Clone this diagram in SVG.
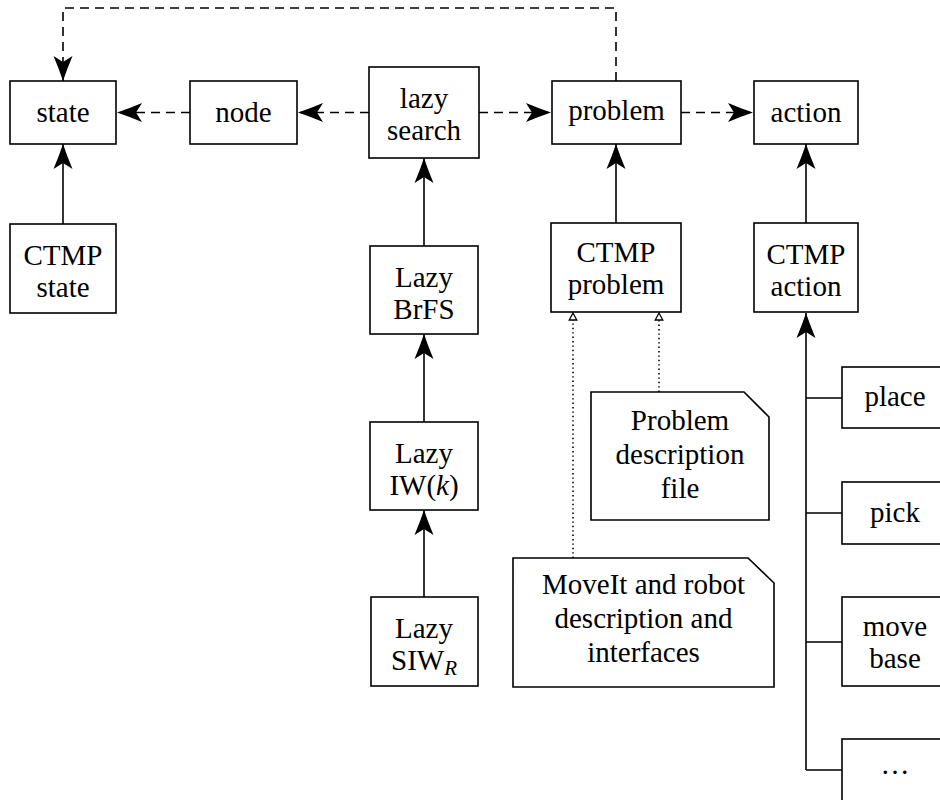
<svg xmlns="http://www.w3.org/2000/svg" width="940" height="800" viewBox="0 0 940 800">
<style>
.b{fill:#fff;stroke:#000;stroke-width:1.6}
.t{font-family:"Liberation Serif","Times New Roman",serif;font-size:29px;text-anchor:middle;fill:#000}
.s{fill:none;stroke:#000;stroke-width:1.6}
.d{fill:none;stroke:#000;stroke-width:1.6;stroke-dasharray:9 6}
.o{fill:none;stroke:#000;stroke-width:1.6;stroke-dasharray:1.4 3}
</style>
<defs>
<marker id="ah" markerUnits="userSpaceOnUse" viewBox="-26 -11 28 22" refX="0" refY="0" markerWidth="28" markerHeight="22" orient="auto">
<path d="M0,0 Q-12,-4 -25,-9.5 L-19,0 L-25,9.5 Q-12,4 0,0 Z" fill="#000"/>
</marker>
<marker id="oh" markerUnits="userSpaceOnUse" viewBox="-10 -6 12 12" refX="0" refY="0" markerWidth="12" markerHeight="12" orient="auto">
<path d="M0,0 L-7,-3.8 L-7,3.8 Z" fill="#fff" stroke="#000" stroke-width="1.3"/>
</marker>
</defs>
<g id="connectors">
<path class="d" d="M616,81 V8 H63 V81" marker-end="url(#ah)"/>
<line class="d" x1="190" y1="112.5" x2="117" y2="112.5" marker-end="url(#ah)"/>
<line class="d" x1="369" y1="112.5" x2="298" y2="112.5" marker-end="url(#ah)"/>
<line class="d" x1="479" y1="112.5" x2="551" y2="112.5" marker-end="url(#ah)"/>
<line class="d" x1="681" y1="112.5" x2="753" y2="112.5" marker-end="url(#ah)"/>
<line class="s" x1="63" y1="224" x2="63" y2="144" marker-end="url(#ah)"/>
<line class="s" x1="424" y1="246" x2="424" y2="158" marker-end="url(#ah)"/>
<line class="s" x1="424" y1="422" x2="424" y2="334" marker-end="url(#ah)"/>
<line class="s" x1="424" y1="597" x2="424" y2="510" marker-end="url(#ah)"/>
<line class="s" x1="616" y1="223" x2="616" y2="144" marker-end="url(#ah)"/>
<line class="s" x1="806" y1="223" x2="806" y2="144" marker-end="url(#ah)"/>
<path class="s" d="M842,398 H806 M842,513 H806 M842,642 H806 M842,770 H806"/>
<line class="s" x1="806" y1="770" x2="806" y2="313" marker-end="url(#ah)"/>
<line class="o" x1="573" y1="558" x2="573" y2="313" marker-end="url(#oh)"/>
<line class="o" x1="659" y1="392" x2="659" y2="313" marker-end="url(#oh)"/>
</g>
<g id="state"><rect class="b" x="10" y="81" width="106" height="63"/><text class="t" x="63" y="122">state</text></g>
<g id="node"><rect class="b" x="190" y="81" width="107" height="63"/><text class="t" x="243.5" y="122">node</text></g>
<g id="lazysearch"><rect class="b" x="369" y="67" width="110" height="91"/><text class="t" x="424" y="108">lazy</text><text class="t" x="424" y="140">search</text></g>
<g id="problem"><rect class="b" x="552" y="81" width="129" height="63"/><text class="t" x="616.5" y="120">problem</text></g>
<g id="action"><rect class="b" x="754" y="81" width="104" height="63"/><text class="t" x="806" y="122">action</text></g>
<g id="ctmpstate"><rect class="b" x="10" y="224" width="106" height="89"/><text class="t" x="63" y="265">CTMP</text><text class="t" x="63" y="297">state</text></g>
<g id="lazybrfs"><rect class="b" x="370" y="246" width="108" height="88"/><text class="t" x="424" y="287">Lazy</text><text class="t" x="424" y="319">BrFS</text></g>
<g id="lazyiw"><rect class="b" x="370" y="422" width="108" height="88"/><text class="t" x="424" y="463">Lazy</text><text class="t" x="424" y="495">IW(<tspan font-style="italic">k</tspan>)</text></g>
<g id="lazysiw"><rect class="b" x="371" y="597" width="107" height="89"/><text class="t" x="424" y="638">Lazy</text><text class="t" x="424" y="670">SIW<tspan font-style="italic" font-size="21" dy="5">R</tspan></text></g>
<g id="ctmpproblem"><rect class="b" x="551" y="223" width="130" height="89"/><text class="t" x="616" y="262">CTMP</text><text class="t" x="616" y="294">problem</text></g>
<g id="ctmpaction"><rect class="b" x="754" y="223" width="104" height="89"/><text class="t" x="806" y="264">CTMP</text><text class="t" x="806" y="296">action</text></g>
<g id="problemfile"><path class="b" d="M591,392 H744 L769,417 V520 H591 Z"/><text class="t" x="680" y="430">Problem</text><text class="t" x="680" y="464">description</text><text class="t" x="680" y="498">file</text></g>
<g id="moveit"><path class="b" d="M513,558 H748 L774,583 V687 H513 Z"/><text class="t" x="643.5" y="594">MoveIt and robot</text><text class="t" x="643.5" y="628">description and</text><text class="t" x="643.5" y="662">interfaces</text></g>
<g id="place"><rect class="b" x="842" y="367" width="106" height="61"/><text class="t" x="895" y="406">place</text></g>
<g id="pick"><rect class="b" x="842" y="482" width="106" height="62"/><text class="t" x="895" y="522">pick</text></g>
<g id="movebase"><rect class="b" x="842" y="597" width="106" height="89"/><text class="t" x="895" y="636">move</text><text class="t" x="895" y="668">base</text></g>
<g id="more"><rect class="b" x="842" y="739" width="106" height="80"/><text class="t" x="895" y="774">…</text></g>
</svg>
